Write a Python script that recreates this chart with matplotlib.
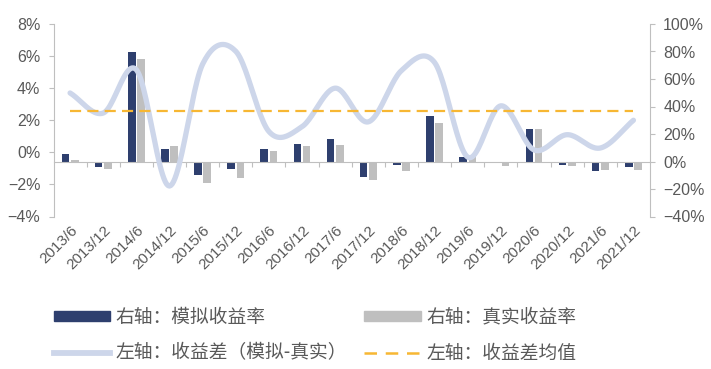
import numpy as np
import matplotlib.pyplot as plt
from matplotlib.ticker import FuncFormatter
from matplotlib.patches import Patch
from matplotlib.lines import Line2D

plt.rcParams['font.family'] = ['Liberation Sans', 'Noto Sans CJK SC', 'DejaVu Sans']

labels = ["2013/6", "2013/12", "2014/6", "2014/12", "2015/6", "2015/12",
          "2016/6", "2016/12", "2017/6", "2017/12", "2018/6", "2018/12",
          "2019/6", "2019/12", "2020/6", "2020/12", "2021/6", "2021/12"]

# 右轴 (bars)
sim_ret = [0.053, -0.038, 0.797, 0.094, -0.099, -0.058, 0.094, 0.128, 0.162,
           -0.114, -0.024, 0.333, 0.036, -0.007, 0.239, -0.029, -0.068, -0.043]
real_ret = [0.014, -0.056, 0.749, 0.116, -0.157, -0.121, 0.080, 0.116, 0.121,
            -0.138, -0.072, 0.278, 0.043, -0.036, 0.239, -0.036, -0.065, -0.065]
# 左轴 (line)
diff = [0.037, 0.0245, 0.0515, -0.021, 0.055, 0.063, 0.013, 0.016, 0.040,
        0.019, 0.051, 0.056, -0.003, 0.029, 0.0015, 0.011, 0.0027, 0.020]

grey_txt = "#595959"
spine_c = "#BFBFBF"
dark = "#2E3F6E"
light = "#BFBFBF"
line_c = "#CDD6EA"
gold = "#F7B733"


def smooth(y, n=24):
    # catmull-rom style smoothing, like the office "smoothed line"
    y = np.asarray(y, float)
    p = np.concatenate([[2 * y[0] - y[1]], y, [2 * y[-1] - y[-2]]])
    xs, ys = [], []
    for i in range(len(y) - 1):
        p0, p1, p2, p3 = p[i], p[i + 1], p[i + 2], p[i + 3]
        t = np.linspace(0, 1, n, endpoint=False)
        yy = 0.5 * ((2 * p1) + (-p0 + p2) * t + (2 * p0 - 5 * p1 + 4 * p2 - p3) * t ** 2
                    + (-p0 + 3 * p1 - 3 * p2 + p3) * t ** 3)
        xs.append(i + t)
        ys.append(yy)
    xs.append([len(y) - 1])
    ys.append([y[-1]])
    return np.concatenate(xs), np.concatenate(ys)


pct = FuncFormatter(lambda v, p: f"{v * 100:.0f}%".replace("-", "−"))

fig = plt.figure(figsize=(7.11, 3.69), dpi=100)
ax = fig.add_axes([53.5 / 711, 1 - 216.5 / 369, (650 - 53.5) / 711, 192.5 / 369])
x = np.arange(len(labels))
w = 0.23
ax.bar(x - 0.14, sim_ret, w, color=dark)
ax.bar(x + 0.14, real_ret, w, color=light)
ax.set_xlim(-0.5, len(labels) - 0.5)
ax.set_ylim(-0.4, 1.0)
ax.set_yticks(np.arange(-0.4, 1.01, 0.2))
ax.yaxis.set_major_formatter(pct)

ax.spines['top'].set_visible(False)
ax.spines['left'].set_visible(False)
ax.spines['right'].set_color(spine_c)
ax.spines['bottom'].set_position(('data', 0))
ax.spines['bottom'].set_color(spine_c)
ax.set_xticks(np.arange(0.5, len(labels) - 0.5, 1))
ax.tick_params(axis='x', labelbottom=False, direction='out', length=3.5, color=spine_c)

sec = ax.secondary_xaxis('bottom')
sec.set_xticks(x, labels=labels, rotation=45, ha='right', rotation_mode='anchor')
sec.tick_params(length=0, pad=5, labelsize=11, colors=grey_txt)
sec.spines['bottom'].set_visible(False)

# line axis (left) drawn above the bars
ax2 = ax.twinx()
ax.yaxis.tick_right()
ax2.yaxis.tick_left()
ax.tick_params(axis='y', colors=grey_txt, labelsize=11.5, length=3.5, pad=6)
ax.tick_params(axis='y', color=spine_c)
ax2.set_ylim(-0.04, 0.08)
ax2.set_yticks(np.arange(-0.04, 0.081, 0.02))
ax2.yaxis.set_major_formatter(pct)
for s in ['top', 'right', 'bottom']:
    ax2.spines[s].set_visible(False)
ax2.spines['left'].set_color(spine_c)
ax2.tick_params(axis='y', colors=grey_txt, labelsize=11.5, length=3.5, pad=6)
ax2.tick_params(axis='y', color=spine_c)

sx, sy = smooth(diff)
ax2.plot(sx, sy, color=line_c, lw=3.8, solid_capstyle='round')
mean_diff = np.mean(diff)
ax2.plot([x[0], x[-1]], [mean_diff, mean_diff], color=gold, lw=1.6, dashes=(5, 2.8))

handles = [Patch(color=dark), Line2D([], [], color=line_c, lw=4.2),
           Patch(color=light), Line2D([], [], color=gold, lw=1.8, dashes=(5, 3.5))]
names = ["右轴：模拟收益率", "左轴：收益差（模拟-真实）", "右轴：真实收益率", "左轴：收益差均值"]
fig.legend(handles, names, ncol=2, loc='center left', bbox_to_anchor=(54 / 711, 1 - 335 / 369),
           frameon=False, handlelength=3.0, handleheight=0.5, handletextpad=0.3,
           columnspacing=0.9, labelspacing=0.8, borderpad=0, borderaxespad=0,
           labelcolor=grey_txt, prop={'family': ['Noto Sans CJK SC', 'DejaVu Sans'], 'size': 13.5})

fig.savefig("out.png", dpi=100)
